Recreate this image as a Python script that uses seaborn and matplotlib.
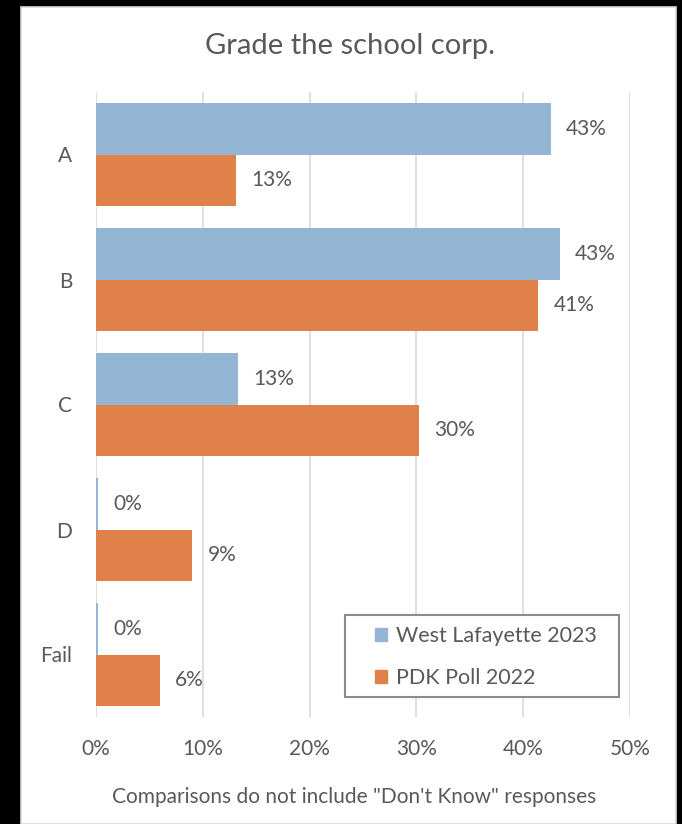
import matplotlib
matplotlib.use("Agg")
import matplotlib.pyplot as plt
import matplotlib.patches as mpatches
import seaborn as sns
import pandas as pd

grades = ["A", "B", "C", "D", "Fail"]
west_lafayette_2023 = [42.6, 43.4, 13.3, 0.2, 0.2]
pdk_poll_2022 = [13.1, 41.4, 30.2, 9.0, 6.0]
series_names = ["West Lafayette 2023", "PDK Poll 2022"]
x_ticks = [0, 10, 20, 30, 40, 50]

df = pd.DataFrame({
    "grade": grades * 2,
    "pct": west_lafayette_2023 + pdk_poll_2022,
    "series": [series_names[0]] * len(grades) + [series_names[1]] * len(grades),
})

sns.set_theme(style="white")
plt.rcParams["font.family"] = ["Lato", "DejaVu Sans"]
text_color = "#595959"
colors = {series_names[0]: "#94b6d4", series_names[1]: "#df8149"}

W, H = 682, 824
fig = plt.figure(figsize=(W / 100, H / 100), dpi=100, facecolor="black")

# white chart panel on black backdrop
panel = mpatches.Rectangle((21 / W, 0), (676 - 21) / W, (H - 7) / H,
                           transform=fig.transFigure, facecolor="white",
                           edgecolor="#d9d9d9", linewidth=1.2, zorder=-5)
fig.patches.append(panel)

ax_x0, ax_x1, ax_top, ax_bot = 96, 630, 92, 717
ax = fig.add_axes([ax_x0 / W, 1 - ax_bot / H, (ax_x1 - ax_x0) / W, (ax_bot - ax_top) / H])
ax.set_facecolor("none")
ax.set_zorder(2)

sns.barplot(data=df, y="grade", x="pct", hue="series", order=grades,
            hue_order=series_names, palette=colors, orient="h",
            width=0.83, gap=0, saturation=1, linewidth=0, ax=ax, zorder=3)

ax.set_xlim(0, 50)
ax.set_ylim(len(grades) - 0.5, -0.5)
ax.set_xticks(x_ticks)
ax.set_xticklabels([f"{t}%" for t in x_ticks], fontsize=15, color=text_color)
ax.tick_params(axis="x", length=0, pad=16)
ax.tick_params(axis="y", length=0, pad=17, labelsize=15, labelcolor=text_color)
ax.grid(axis="x", color="#d9d9d9", linewidth=1.2, zorder=0)
ax.grid(axis="y", visible=False)
ax.set_axisbelow(True)
for s in ax.spines.values():
    s.set_visible(False)
ax.set_xlabel("")
ax.set_ylabel("")

for cont in ax.containers:
    ax.bar_label(cont, labels=[f"{v:.0f}%" for v in cont.datavalues],
                 padding=11, fontsize=15, color=text_color)


def ax_xy(px, py):
    return ((px - ax_x0) / (ax_x1 - ax_x0), (ax_bot - py) / (ax_bot - ax_top))


# legend box
bx0, by1 = ax_xy(345, 615)
bx1, by0 = ax_xy(619, 697)
ax.add_patch(mpatches.Rectangle((bx0, by0), bx1 - bx0, by1 - by0,
                                transform=ax.transAxes, facecolor="white",
                                edgecolor="#8f8a88", linewidth=1.5, zorder=5,
                                clip_on=False))

handles = [mpatches.Patch(color=colors[n]) for n in series_names]
leg = ax.legend(handles, series_names, loc="upper left",
                bbox_to_anchor=ax_xy(375, 626), frameon=False,
                fontsize=15.5, handlelength=0.56, handleheight=0.56,
                handletextpad=0.4, labelspacing=1.03, borderpad=0,
                borderaxespad=0)
leg.set_zorder(6)
for t in leg.get_texts():
    t.set_color(text_color)

fig.text(350 / W, 1 - 46 / H, "Grade the school corp.", ha="center",
         va="center", fontsize=21, color=text_color)
fig.text(354 / W, 1 - 797 / H, "Comparisons do not include \"Don't Know\" responses",
         ha="center", va="center", fontsize=15, color=text_color)

fig.savefig("out.png", dpi=100, facecolor="black")
